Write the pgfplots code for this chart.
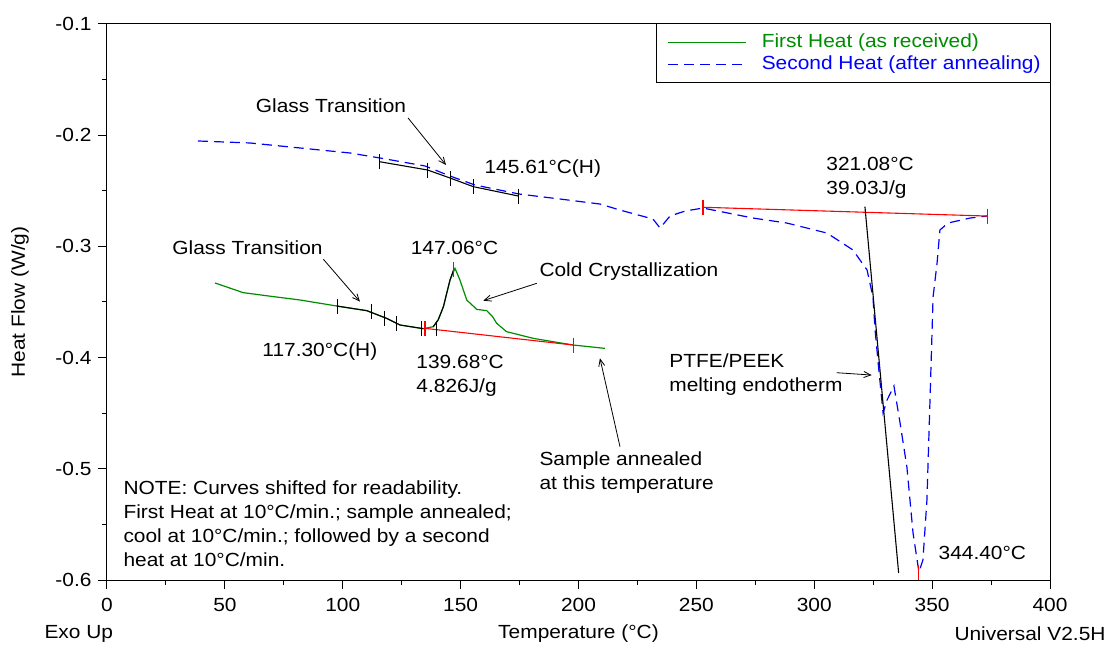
\documentclass[border=0pt]{standalone}
\usepackage{fontspec}
\setmainfont{Liberation Sans}[FakeStretch=1.1]
\usepackage{pgfplots}
\pgfplotsset{compat=1.18}
\usetikzlibrary{arrows.meta}
\definecolor{heatone}{RGB}{0,140,0}
\definecolor{heattwo}{RGB}{0,0,255}
\definecolor{basered}{RGB}{255,0,0}
\newcommand\fs{\fontsize{19}{24}\selectfont}

\begin{document}
\fs
\begin{tikzpicture}[font=\fs]
\begin{axis}[
  name=ax,
  scale only axis, width=943pt, height=556pt,
  xmin=0, xmax=400, ymin=-0.6, ymax=-0.1,
  xtick={0,50,100,150,200,250,300,350,400},
  ytick={-0.6,-0.5,-0.4,-0.3,-0.2,-0.1},
  minor x tick num=1, minor y tick num=1,
  tick align=outside, tick pos=left,
  major tick length=9pt, minor tick length=5pt,
  axis line style={line width=1pt},
  every tick/.style={black, line width=1pt},
  /pgf/number format/assume math mode=true,
  yticklabel style={/pgf/number format/fixed, /pgf/number format/fixed zerofill, /pgf/number format/precision=1},
  xticklabel style={yshift=-3pt},
  xlabel={Temperature (°C)}, ylabel={Heat Flow (W/g)},
  xlabel style={at={(axis description cs:0.5,-0.0971)}, anchor=center},
  ylabel style={at={(axis description cs:-0.0923,0.5)}, anchor=center},
  clip=false,
  legend style={at={(rel axis cs:0.5832,1)}, anchor=north west, draw=none,
    fill=none, inner xsep=10pt, inner ysep=8pt, row sep=1pt},
  legend cell align=left,
  legend image code/.code={\path[draw=none] (0pt,0pt) -- (92pt,0pt);\draw[#1] (0pt,0pt) -- (78pt,0pt);},
]
% legend frame, white behind the curves
\draw[line width=1pt, fill=white] (rel axis cs:0.5832,1) rectangle (rel axis cs:1,0.8939);
% first heat
\addplot[draw=heatone, line width=1.2pt] coordinates {
 (45.8,-0.3329) (57.8,-0.3416) (70,-0.3450) (81.9,-0.3482) (97.4,-0.3536)
 (110.2,-0.3578) (118.6,-0.3647) (124.3,-0.3707) (134.2,-0.3740) (138.4,-0.3722)
 (140.5,-0.3660) (142.7,-0.3542) (145.5,-0.3302) (147.6,-0.3197) (149.7,-0.3302)
 (152.6,-0.3482) (156.8,-0.3566) (161.1,-0.3578) (163.5,-0.3630) (165.3,-0.3692)
 (169.5,-0.3767) (180.8,-0.3827) (197.8,-0.3887) (211.2,-0.3917)
};
\addlegendentry{\textcolor{heatone}{First Heat (as received)}}
% second heat
\addplot[draw=heattwo, line width=1.2pt, dash pattern=on 10pt off 6pt] coordinates {
 (38.6,-0.2052) (60.7,-0.2070) (81.9,-0.2115) (103.1,-0.2160) (115.8,-0.2205)
 (134.9,-0.2277) (145.5,-0.2367) (156.1,-0.2448) (174.8,-0.2529) (192.2,-0.2574)
 (209.1,-0.2619) (217.6,-0.2673) (231.6,-0.2754) (234.6,-0.2835) (238.8,-0.2727)
 (245.2,-0.2682) (252.8,-0.2655) (274.0,-0.2745) (288.4,-0.2790) (305.4,-0.2880)
 (316.4,-0.3032) (322.4,-0.3212) (324.9,-0.3455) (325.8,-0.3752) (327.4,-0.4112)
 (329.2,-0.4498) (330.9,-0.4381) (333.8,-0.4255) (336.4,-0.4588) (339.3,-0.4984)
 (341.9,-0.5577) (344.4,-0.5928) (346.1,-0.5820) (347.8,-0.5281) (349.1,-0.4381)
 (350.4,-0.3455) (352.1,-0.3149) (353.3,-0.2853) (356.7,-0.2790) (366.1,-0.2745)
 (373.3,-0.2727)
};
\addlegendentry{\textcolor{heattwo}{Second Heat (after annealing)}}

% baselines
\addplot[basered, line width=1.1pt, forget plot] coordinates {(134.9,-0.3737) (197.8,-0.3887)};
\addplot[basered, line width=1.1pt, forget plot] coordinates {(252.8,-0.2648) (373.3,-0.2727)};
\addplot[basered, only marks, mark=|, mark size=7.5pt, mark options={line width=1.1pt}, forget plot]
 coordinates {(134.9,-0.3737) (197.8,-0.3887) (147.06,-0.3212) (252.8,-0.2648) (373.3,-0.2727) (344.4,-0.5933)};

% glass transition analysis segments
\addplot[black, line width=1.1pt, forget plot] coordinates {
 (97.4,-0.3536) (110.2,-0.3578) (118.6,-0.3647) (124.3,-0.3707) (134.2,-0.3740)};
\addplot[black, line width=1.1pt, forget plot] coordinates {
 (138.4,-0.3722) (140.5,-0.3660) (142.7,-0.3542) (145.5,-0.3302) (147.0,-0.3210)};
\addplot[black, line width=1.1pt, forget plot] coordinates {
 (115.5,-0.2238) (136.0,-0.2313) (145.9,-0.2388) (155.4,-0.2463) (174.5,-0.2547)};
\addplot[black, only marks, mark=|, mark size=7.5pt, mark options={line width=1pt}, forget plot]
 coordinates {(97.7,-0.3542) (112.3,-0.3587) (117.9,-0.3647) (122.6,-0.3692) (133.5,-0.3740) (139.9,-0.3737)
 (115.5,-0.2238) (136.0,-0.2313) (145.9,-0.2388) (155.4,-0.2463) (174.5,-0.2547)};
% onset tangent of melting
\addplot[black, line width=1.1pt, forget plot] coordinates {(321.5,-0.2643) (335.8,-0.5937)};

% annotations
\node at (axis cs:95.0,-0.1737) {Glass Transition};
\node[anchor=west] at (axis cs:157.4,-0.2304) {145.61°C(H)};
\node at (axis cs:59.6,-0.3014) {Glass Transition};
\node at (axis cs:90.3,-0.395) {117.30°C(H)};
\node at (axis cs:147.4,-0.3014) {147.06°C};
\node at (axis cs:221.4,-0.323) {Cold Crystallization};
\node[anchor=west, align=left] at (axis cs:128.5,-0.4161) {139.68°C\\4.826J/g};
\node[anchor=west, align=left] at (axis cs:180.7,-0.5038) {Sample annealed\\at this temperature};
\node[anchor=west, align=left] at (axis cs:235.8,-0.4157) {PTFE/PEEK\\melting endotherm};
\node[anchor=west, align=left] at (axis cs:302.4,-0.2385) {321.08°C\\39.03J/g};
\node[anchor=west] at (axis cs:350.0,-0.5757) {344.40°C};
\node[anchor=west, align=left] at (axis cs:4.24,-0.5496)
 {NOTE: Curves shifted for readability.\\First Heat at 10°C/min.; sample annealed;\\cool at 10°C/min.; followed by a second\\heat at 10°C/min.};

\draw[-{Straight Barb[length=7pt,width=6pt]}, line width=0.8pt] (axis cs:127.7,-0.1845) -- (axis cs:143.8,-0.2268);
\draw[-{Straight Barb[length=7pt,width=6pt]}, line width=0.8pt] (axis cs:91.8,-0.3116) -- (axis cs:107.3,-0.3497);
\draw[-{Straight Barb[length=7pt,width=6pt]}, line width=0.8pt] (axis cs:182.3,-0.3332) -- (axis cs:159.6,-0.3488);
\draw[-{Straight Barb[length=7pt,width=6pt]}, line width=0.8pt] (axis cs:217.6,-0.4801) -- (axis cs:209.1,-0.4006);
\draw[-{Straight Barb[length=7pt,width=6pt]}, line width=0.8pt] (axis cs:309.5,-0.4136) -- (axis cs:324.4,-0.4157);

\node[anchor=west] at (rel axis cs:-0.0732,-0.0971) {Exo Up};
\node[anchor=east] at (rel axis cs:1.0658,-0.0971) {Universal V2.5H};
\end{axis}
\pgfresetboundingbox
\path (ax.south west) ++(-107pt,-66pt) rectangle ++(1117pt,646pt);
\end{tikzpicture}
\end{document}
